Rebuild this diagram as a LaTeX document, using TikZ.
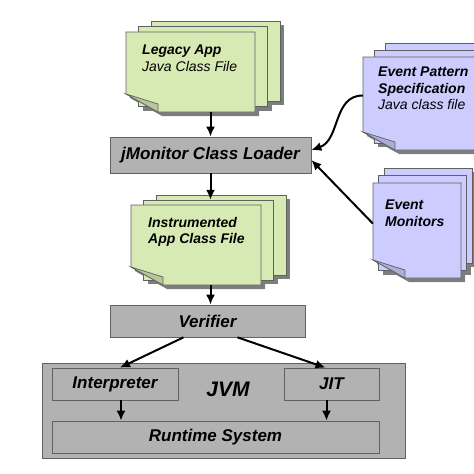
\documentclass[tikz,border=0pt]{standalone}
\usepackage{fontspec}
\setmainfont{Liberation Sans}
\usetikzlibrary{arrows.meta}

\definecolor{appgreen}{RGB}{216,234,180}
\definecolor{evpurple}{RGB}{204,204,255}
\definecolor{boxgray}{RGB}{178,178,178}
\definecolor{edgegray}{RGB}{96,96,96}
\definecolor{shadowgray}{RGB}{125,125,125}

% #1 name, #2 colour, #3 left, #4 top, #5 width, #6 height, #7 dx, #8 dy
\newcommand{\pagestack}[8]{%
  % shadows first, behind the whole stack
  \foreach \k in {2,1}{%
    \fill[pageshadow] ({#3+\k*#7+4},{#4-\k*#8+4}) rectangle +(#5,#6);
  }
  \fill[pageshadow,shift={(4,4)}] (#3,#4) -- ++(#5,0) -- ++(0,#6) -- ++({32-#5},0) -- ++(-32,-18) -- cycle;
  \foreach \k in {2,1}{%
    \filldraw[page,fill=#2] ({#3+\k*#7},{#4-\k*#8}) rectangle +(#5,#6);
  }
  \filldraw[page,fill=#2] (#3,#4) -- ++(#5,0) -- ++(0,#6) -- ++({32-#5},0) -- ++(-32,-18) -- cycle;
  \filldraw[page,fill=#2!85!black] (#3,{#4+#6-18}) -- ++(32,10) -- ++(0,8) -- cycle;
  \node[inner sep=0pt,minimum width=#5pt,minimum height=#6pt] (#1) at ({#3+#5/2},{#4+#6/2}) {};
}

\begin{document}
\begin{tikzpicture}[x=1pt,y=-1pt,>={Latex[length=10pt,width=9pt]},
    page/.style={draw=edgegray,line width=0.7pt},
    pageshadow/.style={fill=shadowgray},
    proc/.style={draw=edgegray,fill=boxgray,line width=0.7pt,inner sep=0pt,
      font=\fontsize{17}{20}\selectfont\bfseries\itshape},
    doctext/.style={anchor=north west,inner sep=0pt,align=left,
      font=\fontsize{14}{16.5}\selectfont\itshape},
    flow/.style={->,line width=2pt}]

  \useasboundingbox (0,0) rectangle (474,474);
  \clip (0,0) rectangle (474,474);

  % input files
  \pagestack{legacy}{appgreen}{126}{32}{129}{80}{12.5}{5.5}
  \pagestack{instr}{appgreen}{131}{205}{130}{80}{12.5}{5}
  \pagestack{pattern}{evpurple}{363}{57}{129}{93}{11}{7}
  \pagestack{monitors}{evpurple}{373}{183}{88}{95}{5.5}{7.5}

  \node[doctext] (legacytxt) at (142,45) {\textbf{Legacy App}\\Java Class File};
  \node[doctext] (instrtxt) at (148,217) {\textbf{Instrumented}\\\textbf{App Class File}};
  \node[doctext] (patterntxt) at (378,67) {\textbf{Event Pattern}\\\textbf{Specification}\\Java class file};
  \node[doctext] (monitorstxt) at (385,200) {\textbf{Event}\\\textbf{Monitors}};

  % processing steps
  \node[proc,minimum width=201pt,minimum height=36pt] (loader) at (210.5,155) {jMonitor Class Loader};
  \node[proc,minimum width=195pt,minimum height=32pt] (verifier) at (207.5,321) {Verifier};
  \node[proc,minimum width=363pt,minimum height=95pt] (jvm) at (223.5,410.5) {};
  \node[font=\fontsize{21}{24}\selectfont\bfseries\itshape] (jvmlabel) at (228,389) {JVM};
  \node[proc,minimum width=126pt,minimum height=32pt] (interp) at (115,384) {Interpreter};
  \node[proc,minimum width=95pt,minimum height=32pt] (jit) at (331.5,384) {JIT};
  \node[proc,minimum width=327pt,minimum height=32pt] (runtime) at (215.5,437) {Runtime System};

  \draw[flow] (loader.north |- legacy.south) -- (loader.north);
  \draw[flow,shorten >=5pt] (loader.south) -- (loader.south |- instr.north);
  \draw[flow] (loader.south |- instr.south) -- (loader.south |- verifier.north);
  \draw[flow] ([xshift=-24pt]verifier.south) -- ([xshift=5pt]interp.north);
  \draw[flow] ([xshift=30pt]verifier.south) -- ([xshift=-6pt]jit.north);
  \draw[flow] ([xshift=6pt]interp.south) -- ([xshift=6pt]interp.south |- runtime.north);
  \draw[flow] ([xshift=-5pt]jit.south) -- ([xshift=-5pt]jit.south |- runtime.north);
  \draw[flow] ([yshift=8pt]pattern.west) .. controls +(-30,0) and +(29,-10) .. ([yshift=5pt]loader.east);
  \draw[flow] ([yshift=7pt]monitors.west) -- ([yshift=-5pt]loader.east);

\end{tikzpicture}
\end{document}
